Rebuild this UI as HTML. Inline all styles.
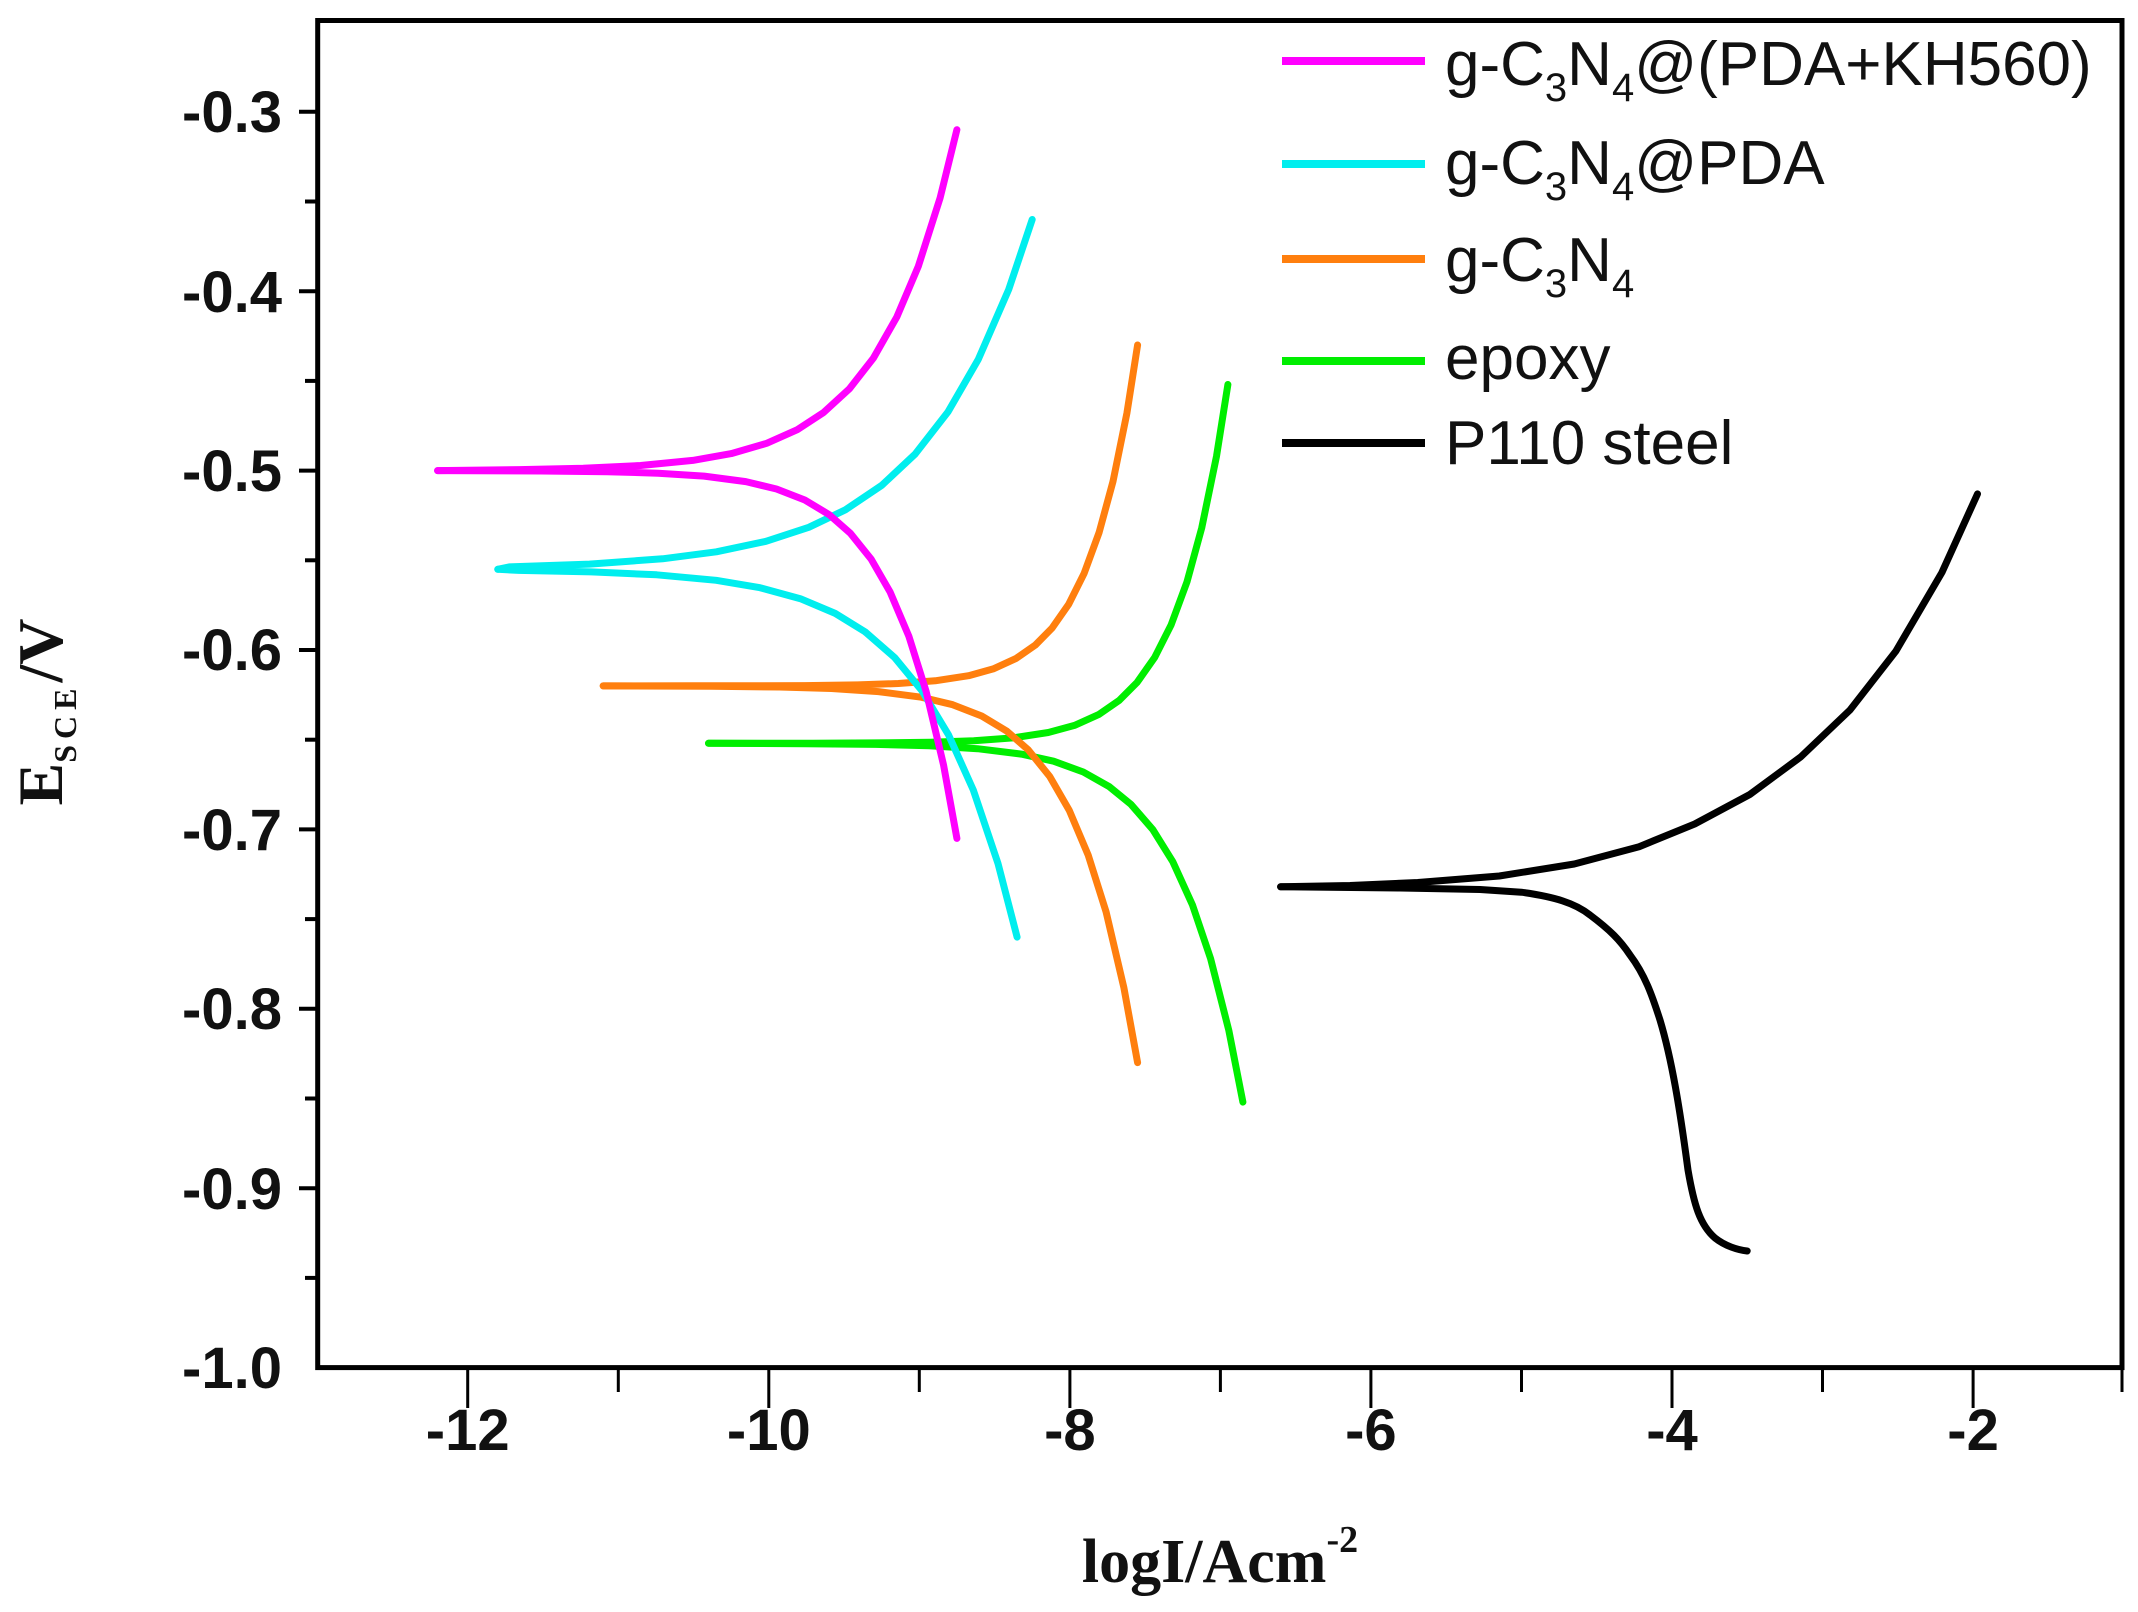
<!DOCTYPE html>
<html><head><meta charset="utf-8"><style>
html,body{margin:0;padding:0;background:#fff;}
svg{display:block;}
</style></head><body>
<svg width="2138" height="1612" viewBox="0 0 2138 1612" xmlns="http://www.w3.org/2000/svg">
<rect x="0" y="0" width="2138" height="1612" fill="#fff"/>
<g fill="none" stroke-width="7" stroke-linecap="round" stroke-linejoin="round">
<!-- green -->
<path stroke="#00ee00" d="M708.5,743.3 L756.3,743.3 L812.7,743.2 L874.2,742.9 L930.5,742.2 L973.8,740.8 L1012.9,737.9 L1048.3,732.5 L1074.5,725.4 L1098.6,714.6 L1119.4,700.2 L1137.2,682.3 L1154.8,657.2 L1171.1,624.9 L1187.0,581.8 L1201.7,528.0 L1216.5,456.3 L1227.9,384.5"/>
<path stroke="#00ee00" d="M708.5,743.3 L806.3,743.7 L875.8,744.4 L929.3,745.8 L977.5,748.7 L1021.3,754.1 L1053.6,761.2 L1083.3,772.0 L1108.9,786.4 L1130.9,804.3 L1152.7,829.4 L1172.8,861.7 L1192.4,904.8 L1210.6,958.6 L1228.8,1030.3 L1242.9,1102.1"/>
<!-- orange -->
<path stroke="#ff7f0e" d="M603.2,685.9 L693.6,685.8 L746.6,685.8 L804.6,685.6 L857.6,684.9 L898.4,683.5 L935.2,680.8 L968.6,675.7 L993.2,668.9 L1015.8,658.6 L1035.4,645.0 L1052.2,627.9 L1068.8,604.1 L1084.1,573.4 L1099.1,532.5 L1113.0,481.4 L1126.9,413.2 L1137.6,345.0"/>
<path stroke="#ff7f0e" d="M603.2,685.9 L711.4,686.3 L779.2,687.0 L831.4,688.5 L878.5,691.6 L921.2,697.2 L952.7,704.7 L981.7,716.0 L1006.8,731.1 L1028.3,749.9 L1049.6,776.3 L1069.2,810.2 L1088.3,855.4 L1106.1,911.9 L1123.8,987.3 L1137.6,1062.6"/>
<!-- cyan -->
<path stroke="#00eeee" d="M497.8,569.3 L509.2,566.9 L589.5,564.1 L662.6,558.8 L716.4,551.8 L766.0,541.3 L808.8,527.3 L845.4,509.8 L881.8,485.3 L915.3,453.9 L948.0,411.9 L978.3,359.4 L1008.7,289.5 L1032.2,219.5"/>
<path stroke="#00eeee" d="M497.8,569.3 L518.7,570.4 L591.4,571.9 L656.7,574.8 L716.2,580.3 L760.0,587.7 L800.4,598.7 L835.2,613.4 L865.1,631.8 L894.7,657.6 L921.9,690.7 L948.5,734.8 L973.3,790.0 L998.0,863.5 L1017.1,937.1"/>
<!-- magenta -->
<path stroke="#ff00ff" d="M437.6,470.6 L519.5,469.6 L583.3,468.2 L640.6,465.5 L692.8,460.4 L731.3,453.6 L766.7,443.3 L797.3,429.7 L823.5,412.6 L849.4,388.8 L873.4,358.1 L896.7,317.2 L918.4,266.1 L940.1,197.9 L956.9,129.7"/>
<path stroke="#ff00ff" d="M437.6,470.6 L541.0,471.0 L607.2,471.7 L658.2,473.2 L704.1,476.1 L745.8,481.6 L776.5,489.0 L804.8,500.0 L829.3,514.7 L850.2,533.1 L871.0,558.9 L890.1,592.0 L908.8,636.1 L926.1,691.3 L943.5,764.8 L956.9,838.4"/>
<!-- black -->
<path stroke="#000" d="M1280.6,886.8 L1350,885.5 L1417.8,882.5 L1499.3,876.0 L1574.3,864.0 L1639.1,846.7 L1694.7,824.0 L1749.8,794.5 L1800.5,757.1 L1850.0,710.0 L1895.9,651.1 L1941.9,572.5 L1977.5,493.9"/>
<path stroke="#000" d="M1280.6,886.8 L1400,888 L1480,889.5 L1521.4,892.2 C1555,897 1575,903 1590,915 C1610,930 1620,940 1630,955 C1645,975 1652,995 1660,1020 C1672,1060 1680,1110 1688,1170 C1694,1205 1700,1225 1715,1238 C1725,1246 1738,1250 1747.2,1251.0"/>
</g>
<g stroke="#000" fill="none">
<rect x="317.7" y="20.5" width="1804.3" height="1347.1" stroke-width="5"/>
<g stroke-width="4">
<line x1="317.7" y1="111.8" x2="299" y2="111.8"/><line x1="317.7" y1="201.5" x2="305" y2="201.5"/>
<line x1="317.7" y1="291.2" x2="299" y2="291.2"/><line x1="317.7" y1="380.9" x2="305" y2="380.9"/>
<line x1="317.7" y1="470.6" x2="299" y2="470.6"/><line x1="317.7" y1="560.3" x2="305" y2="560.3"/>
<line x1="317.7" y1="650.0" x2="299" y2="650.0"/><line x1="317.7" y1="739.7" x2="305" y2="739.7"/>
<line x1="317.7" y1="829.4" x2="299" y2="829.4"/><line x1="317.7" y1="919.1" x2="305" y2="919.1"/>
<line x1="317.7" y1="1008.8" x2="299" y2="1008.8"/><line x1="317.7" y1="1098.5" x2="305" y2="1098.5"/>
<line x1="317.7" y1="1188.2" x2="299" y2="1188.2"/><line x1="317.7" y1="1277.9" x2="305" y2="1277.9"/>
</g>
<g stroke-width="3">
<line x1="467.7" y1="1367" x2="467.7" y2="1408"/><line x1="618.3" y1="1367" x2="618.3" y2="1392"/>
<line x1="768.8" y1="1367" x2="768.8" y2="1408"/><line x1="919.3" y1="1367" x2="919.3" y2="1392"/>
<line x1="1069.9" y1="1367" x2="1069.9" y2="1408"/><line x1="1220.4" y1="1367" x2="1220.4" y2="1392"/>
<line x1="1370.9" y1="1367" x2="1370.9" y2="1408"/><line x1="1521.5" y1="1367" x2="1521.5" y2="1392"/>
<line x1="1672.0" y1="1367" x2="1672.0" y2="1408"/><line x1="1822.5" y1="1367" x2="1822.5" y2="1392"/>
<line x1="1973.1" y1="1367" x2="1973.1" y2="1408"/><line x1="2122" y1="1367" x2="2122" y2="1392"/>
</g>
</g>
<g font-family="Liberation Sans, Arial, sans-serif" font-weight="bold" font-size="58" fill="#111" text-anchor="end">
<text x="282" y="132">-0.3</text><text x="282" y="312">-0.4</text><text x="282" y="491">-0.5</text>
<text x="282" y="670">-0.6</text><text x="282" y="850">-0.7</text><text x="282" y="1029">-0.8</text>
<text x="282" y="1209">-0.9</text><text x="282" y="1388">-1.0</text>
</g>
<g font-family="Liberation Sans, Arial, sans-serif" font-weight="bold" font-size="58" fill="#111" text-anchor="middle">
<text x="467.7" y="1450">-12</text><text x="768.8" y="1450">-10</text><text x="1069.9" y="1450">-8</text>
<text x="1370.9" y="1450">-6</text><text x="1672.0" y="1450">-4</text><text x="1973.1" y="1450">-2</text>
</g>
<text x="1220" y="1582" font-family="Liberation Serif, serif" font-weight="bold" font-size="62" text-anchor="middle" fill="#111">logI/Acm<tspan font-size="38" dy="-30">-2</tspan></text>
<text transform="translate(62,712) rotate(-90)" font-family="Liberation Serif, serif" font-weight="bold" font-size="64" text-anchor="middle" fill="#111">E<tspan font-size="32" dy="14" letter-spacing="6">SCE</tspan><tspan dy="-14">/V</tspan></text>
<g font-family="Liberation Sans, Arial, sans-serif" font-size="62" fill="#111">
<line x1="1282" y1="61" x2="1425" y2="61" stroke="#ff00ff" stroke-width="8"/>
<text x="1445" y="85">g-C<tspan font-size="40" dy="16">3</tspan><tspan dy="-16">N</tspan><tspan font-size="40" dy="16">4</tspan><tspan dy="-16">@(PDA+KH560)</tspan></text>
<line x1="1282" y1="164" x2="1425" y2="164" stroke="#00eeee" stroke-width="8"/>
<text x="1445" y="184">g-C<tspan font-size="40" dy="16">3</tspan><tspan dy="-16">N</tspan><tspan font-size="40" dy="16">4</tspan><tspan dy="-16">@PDA</tspan></text>
<line x1="1282" y1="259" x2="1425" y2="259" stroke="#ff7f0e" stroke-width="8"/>
<text x="1445" y="281">g-C<tspan font-size="40" dy="16">3</tspan><tspan dy="-16">N</tspan><tspan font-size="40" dy="16">4</tspan></text>
<line x1="1282" y1="361" x2="1425" y2="361" stroke="#00ee00" stroke-width="8"/>
<text x="1445" y="379">epoxy</text>
<line x1="1282" y1="443" x2="1425" y2="443" stroke="#000" stroke-width="8"/>
<text x="1445" y="464">P110 steel</text>
</g>
</svg>
</body></html>
